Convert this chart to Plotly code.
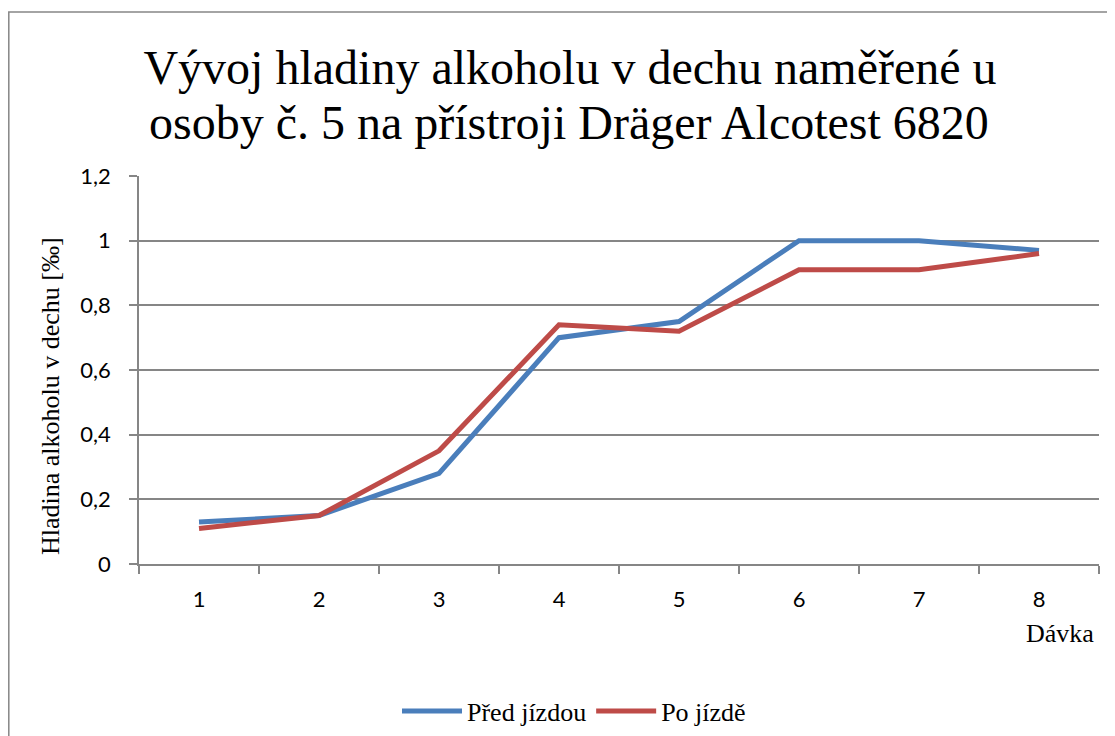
import plotly.graph_objects as go

categories = ["1", "2", "3", "4", "5", "6", "7", "8"]
pred_jizdou = [0.13, 0.15, 0.28, 0.70, 0.75, 1.00, 1.00, 0.97]
po_jizde = [0.11, 0.15, 0.35, 0.74, 0.72, 0.91, 0.91, 0.96]
y_ticks = [0, 0.2, 0.4, 0.6, 0.8, 1.0, 1.2]

# page body has an 8px margin; figure sized so the plot area lands at screen 139..1099 x 176..564
W, H = 1107, 728
L, R, T, B = 131, 16, 168, 172
PW, PH = W - L - R, H - T - B


def sx(px):
    return (px - 139) / PW


def sy(py):
    return (564 - py) / PH


def cx(px):
    return (px - 8) / W


def cy(py):
    return 1 - (py - 8) / H


fig = go.Figure()
fig.add_trace(go.Scatter(x=categories, y=pred_jizdou, mode="lines", name="Před jízdou",
                         line=dict(color="#4A7EBB", width=5)))
fig.add_trace(go.Scatter(x=categories, y=po_jizde, mode="lines", name="Po jízdě",
                         line=dict(color="#BE4B48", width=5)))

grid = "#868686"
serif = "Liberation Serif, Times New Roman, serif"
fig.update_layout(
    width=W, height=H,
    margin=dict(l=L, r=R, t=T, b=B, autoexpand=False),
    paper_bgcolor="white", plot_bgcolor="white",
    separators=", ",
    title=dict(text="Vývoj hladiny alkoholu v dechu naměřené u",
               xref="container", yref="container", x=cx(570), xanchor="center",
               y=cy(67), yanchor="middle",
               font=dict(family=serif, size=48, color="black")),
    legend=dict(orientation="h", xref="container", yref="container",
                x=cx(574), xanchor="center", y=cy(711), yanchor="middle",
                font=dict(family=serif, size=26, color="black"),
                itemwidth=60, tracegroupgap=0),
    showlegend=True,
    xaxis=dict(type="category", showgrid=False, showline=True, linecolor=grid, linewidth=1.5,
               ticks="outside", tickson="boundaries", ticklen=8, tickcolor=grid, tickwidth=1.5,
               tickfont=dict(family="Lato", size=22, color="black"), ticklabelstandoff=15,
               range=[-0.5, 7.5], automargin=False),
    yaxis=dict(range=[0, 1.2], tickvals=y_ticks, showgrid=True, gridcolor=grid, gridwidth=1.5,
               showline=True, linecolor=grid, linewidth=1.5, zeroline=False,
               ticks="outside", ticklen=8, tickcolor=grid, tickwidth=1.5, automargin=False,
               tickfont=dict(family="Lato", size=22, color="black"), ticklabelstandoff=14),
    annotations=[
        dict(text="osoby č. 5 na přístroji Dräger Alcotest 6820", xref="paper", yref="paper",
             x=sx(569), y=sy(122), xanchor="center", yanchor="middle", showarrow=False,
             font=dict(family=serif, size=48, color="black")),
        dict(text="Hladina alkoholu v dechu [‰]", xref="paper", yref="paper",
             x=sx(50), y=sy(396), xanchor="center", yanchor="middle", showarrow=False,
             textangle=-90, font=dict(family=serif, size=26, color="black")),
        dict(text="Dávka", xref="paper", yref="paper", x=sx(1060), y=sy(633),
             xanchor="center", yanchor="middle", showarrow=False,
             font=dict(family=serif, size=26, color="black")),
    ],
    shapes=[dict(type="rect", xref="paper", yref="paper",
                 x0=sx(8.8), x1=sx(1140), y0=sy(780), y1=sy(12),
                 line=dict(color="#868686", width=1.5), fillcolor="rgba(0,0,0,0)", layer="below")],
)

fig.write_html("out.html")
